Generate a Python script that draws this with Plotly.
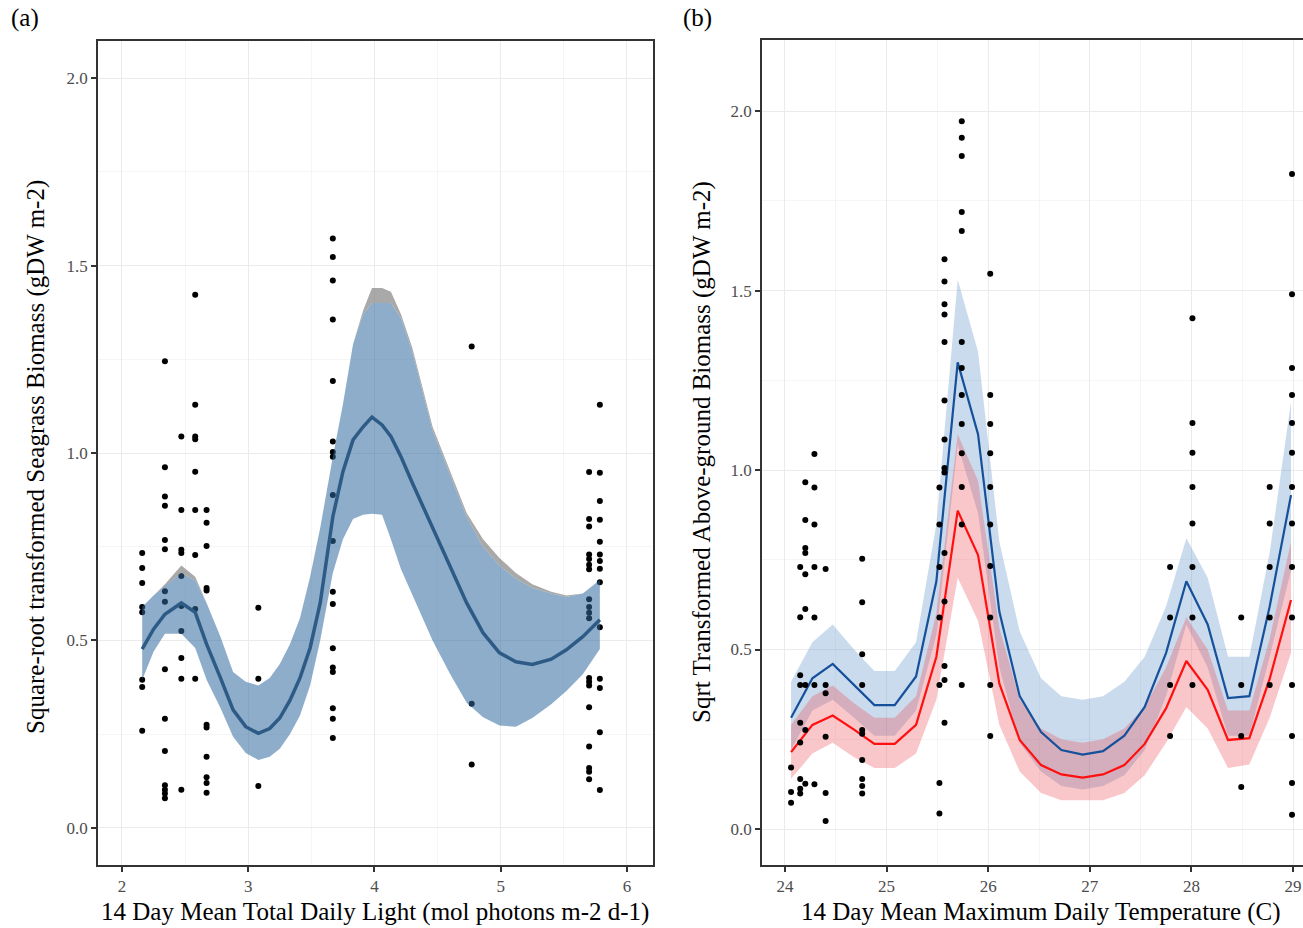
import plotly.graph_objects as go

# ---------------- Panel (a) data ----------------
light_x = ([2.16] * 8 + [2.34] * 15 + [2.47] * 10 + [2.58] * 9 + [2.67] * 11 + [3.08] * 3
           + [3.67] * 18 + [4.77] * 3 + [5.70] * 19 + [5.785] * 14)
light_y = [
    0.733, 0.693, 0.653, 0.589, 0.575, 0.395, 0.376, 0.259,
    1.245, 0.962, 0.884, 0.859, 0.768, 0.743, 0.631, 0.603, 0.423, 0.291, 0.205, 0.114, 0.102, 0.092, 0.079,
    1.044, 0.848, 0.742, 0.733, 0.672, 0.592, 0.525, 0.453, 0.398, 0.102,
    1.422, 1.129, 1.044, 1.037, 0.950, 0.848, 0.728, 0.584, 0.398,
    0.848, 0.814, 0.752, 0.640, 0.633, 0.275, 0.268, 0.190, 0.135, 0.120, 0.094,
    0.587, 0.398, 0.112,
    1.572, 1.523, 1.460, 1.356, 1.192, 1.031, 1.003, 0.990, 0.888, 0.765, 0.630, 0.597, 0.479, 0.428, 0.416, 0.319, 0.291, 0.240,
    1.284, 0.331, 0.169,
    0.949, 0.824, 0.804, 0.729, 0.717, 0.702, 0.690, 0.610, 0.589, 0.574, 0.559, 0.400, 0.390, 0.380, 0.322, 0.217, 0.160, 0.150, 0.130,
    1.129, 0.947, 0.872, 0.822, 0.763, 0.729, 0.712, 0.691, 0.655, 0.535, 0.398, 0.373, 0.255, 0.101,
]

smooth_x = [2.16, 2.25, 2.34, 2.47, 2.58, 2.67, 2.78, 2.88, 2.98, 3.08, 3.17, 3.25, 3.33, 3.41, 3.49, 3.57,
            3.67, 3.75, 3.83, 3.91, 3.98, 4.06, 4.13, 4.21, 4.30, 4.46, 4.60, 4.73, 4.86, 4.99, 5.12, 5.25,
            5.40, 5.52, 5.65, 5.785]
smooth_fit = [0.477, 0.53, 0.57, 0.60, 0.575, 0.49, 0.40, 0.315, 0.27, 0.252, 0.265, 0.293, 0.34, 0.40, 0.48, 0.60,
              0.83, 0.95, 1.035, 1.07, 1.096, 1.075, 1.044, 0.99, 0.92, 0.80, 0.70, 0.60, 0.52, 0.467, 0.443, 0.436,
              0.45, 0.475, 0.51, 0.555]
smooth_lower = [0.395, 0.47, 0.518, 0.518, 0.48, 0.395, 0.32, 0.243, 0.20, 0.181, 0.19, 0.211, 0.25, 0.30, 0.38, 0.50,
                0.68, 0.77, 0.824, 0.835, 0.838, 0.835, 0.77, 0.69, 0.62, 0.50, 0.41, 0.334, 0.295, 0.273, 0.27, 0.293,
                0.33, 0.365, 0.41, 0.477]
smooth_upper_grey = [0.589, 0.62, 0.65, 0.70, 0.67, 0.60, 0.51, 0.416, 0.39, 0.38, 0.40, 0.437, 0.49, 0.56, 0.67, 0.80,
                     0.99, 1.13, 1.29, 1.38, 1.44, 1.44, 1.43, 1.37, 1.28, 1.07, 0.95, 0.84, 0.77, 0.72, 0.68, 0.65,
                     0.63, 0.62, 0.625, 0.661]
smooth_upper_blue = [0.589, 0.62, 0.645, 0.68, 0.66, 0.60, 0.51, 0.416, 0.39, 0.38, 0.40, 0.437, 0.49, 0.56, 0.67, 0.80,
                     0.99, 1.13, 1.29, 1.37, 1.40, 1.40, 1.40, 1.36, 1.27, 1.06, 0.94, 0.83, 0.75, 0.70, 0.665, 0.64,
                     0.625, 0.616, 0.625, 0.661]

# ---------------- Panel (b) data ----------------
temp_x = ([24.06] * 3 + [24.15] * 9 + [24.20] * 9 + [24.29] * 7 + [24.40] * 6 + [24.76] * 10 + [25.52] * 7
          + [25.57] * 14 + [25.74] * 13 + [26.02] * 10 + [27.79] * 4 + [28.01] * 8 + [28.49] * 4 + [28.77] * 5
          + [28.99] * 14)
temp_y = [
    0.171, 0.103, 0.073,
    0.730, 0.590, 0.428, 0.401, 0.296, 0.241, 0.139, 0.112, 0.099,
    0.966, 0.861, 0.783, 0.769, 0.710, 0.613, 0.401, 0.276, 0.126,
    1.045, 0.951, 0.848, 0.730, 0.589, 0.401, 0.125,
    0.724, 0.401, 0.378, 0.257, 0.100, 0.022,
    0.753, 0.632, 0.487, 0.401, 0.276, 0.265, 0.192, 0.139, 0.120, 0.099,
    0.951, 0.848, 0.730, 0.589, 0.401, 0.128, 0.043,
    1.587, 1.525, 1.462, 1.433, 1.357, 1.194, 1.085, 1.006, 0.993, 0.769, 0.634, 0.454, 0.415, 0.296,
    1.972, 1.926, 1.875, 1.719, 1.666, 1.357, 1.284, 1.209, 1.128, 1.047, 0.953, 0.848, 0.401,
    1.547, 1.209, 1.128, 1.047, 0.953, 0.848, 0.733, 0.589, 0.401, 0.259,
    0.730, 0.589, 0.401, 0.259,
    1.423, 1.131, 1.048, 0.953, 0.851, 0.730, 0.589, 0.401,
    0.589, 0.401, 0.259, 0.117,
    0.953, 0.851, 0.730, 0.589, 0.401,
    1.825, 1.490, 1.284, 1.209, 1.131, 1.048, 0.953, 0.851, 0.730, 0.589, 0.401, 0.259, 0.128, 0.040,
]

pred_x = [24.06, 24.27, 24.47, 24.68, 24.88, 25.08, 25.29, 25.49, 25.70, 25.90, 26.11, 26.31, 26.52,
          26.72, 26.93, 27.13, 27.34, 27.54, 27.75, 27.95, 28.16, 28.36, 28.57, 28.77, 28.98]
blue_fit = [0.31, 0.42, 0.46, 0.40, 0.345, 0.345, 0.425, 0.69, 1.30, 1.10, 0.605, 0.37, 0.27,
            0.22, 0.207, 0.217, 0.26, 0.34, 0.49, 0.69, 0.57, 0.365, 0.37, 0.62, 0.93]
blue_upper = [0.41, 0.52, 0.57, 0.50, 0.44, 0.44, 0.52, 0.85, 1.53, 1.33, 0.80, 0.55, 0.42,
              0.37, 0.36, 0.37, 0.41, 0.48, 0.62, 0.81, 0.70, 0.48, 0.48, 0.77, 1.19]
blue_lower = [0.22, 0.33, 0.36, 0.31, 0.26, 0.26, 0.33, 0.54, 1.07, 0.88, 0.45, 0.24, 0.16,
              0.12, 0.11, 0.12, 0.15, 0.22, 0.37, 0.57, 0.45, 0.26, 0.26, 0.48, 0.72]
red_fit = [0.214, 0.29, 0.316, 0.277, 0.237, 0.237, 0.29, 0.48, 0.887, 0.763, 0.405, 0.248, 0.178,
           0.152, 0.143, 0.152, 0.178, 0.237, 0.336, 0.468, 0.388, 0.248, 0.253, 0.418, 0.638]
red_upper = [0.29, 0.37, 0.40, 0.35, 0.31, 0.31, 0.37, 0.60, 1.10, 0.97, 0.56, 0.36, 0.28,
             0.25, 0.24, 0.25, 0.28, 0.34, 0.45, 0.59, 0.50, 0.33, 0.33, 0.53, 0.80]
red_lower = [0.14, 0.21, 0.24, 0.20, 0.17, 0.17, 0.21, 0.36, 0.70, 0.58, 0.29, 0.16, 0.10,
             0.08, 0.08, 0.08, 0.10, 0.15, 0.24, 0.34, 0.28, 0.17, 0.18, 0.31, 0.49]

ticks_a_x = [2, 3, 4, 5, 6]
ticks_b_x = [24, 25, 26, 27, 28, 29]
ticks_y = [0.0, 0.5, 1.0, 1.5, 2.0]

FONT = "Liberation Serif"

fig = go.Figure()

# ---- panel (a) ----
fig.add_trace(go.Scatter(x=light_x, y=light_y, mode="markers", xaxis="x", yaxis="y",
                         marker=dict(color="black", size=6), hoverinfo="skip"))
fig.add_trace(go.Scatter(x=smooth_x + smooth_x[::-1], y=smooth_upper_blue + smooth_lower[::-1],
                         fill="toself", fillcolor="rgba(50,105,160,0.55)", line=dict(width=0),
                         mode="lines", xaxis="x", yaxis="y", hoverinfo="skip"))
fig.add_trace(go.Scatter(x=smooth_x + smooth_x[::-1], y=smooth_upper_grey + smooth_upper_blue[::-1],
                         fill="toself", fillcolor="rgba(140,140,140,0.75)", line=dict(width=0),
                         mode="lines", xaxis="x", yaxis="y", hoverinfo="skip"))
fig.add_trace(go.Scatter(x=smooth_x, y=smooth_fit, mode="lines", xaxis="x", yaxis="y",
                         line=dict(color="#2d5b85", width=3.5), hoverinfo="skip"))

# ---- panel (b) ----
fig.add_trace(go.Scatter(x=pred_x + pred_x[::-1], y=blue_upper + blue_lower[::-1],
                         fill="toself", fillcolor="rgba(80,135,195,0.3)", line=dict(width=0),
                         mode="lines", xaxis="x2", yaxis="y2", hoverinfo="skip"))
fig.add_trace(go.Scatter(x=pred_x + pred_x[::-1], y=red_upper + red_lower[::-1],
                         fill="toself", fillcolor="rgba(235,70,80,0.3)", line=dict(width=0),
                         mode="lines", xaxis="x2", yaxis="y2", hoverinfo="skip"))
fig.add_trace(go.Scatter(x=pred_x, y=blue_fit, mode="lines", xaxis="x2", yaxis="y2",
                         line=dict(color="#15509a", width=2.2), hoverinfo="skip"))
fig.add_trace(go.Scatter(x=pred_x, y=red_fit, mode="lines", xaxis="x2", yaxis="y2",
                         line=dict(color="#ff1010", width=2.2), hoverinfo="skip"))
fig.add_trace(go.Scatter(x=temp_x, y=temp_y, mode="markers", xaxis="x2", yaxis="y2",
                         marker=dict(color="black", size=6), hoverinfo="skip"))

tickfont = dict(family=FONT, size=17, color="#4d4d4d")
common = dict(showgrid=True, gridcolor="#ebebeb", gridwidth=1.2, zeroline=False,
              ticks="outside", ticklen=5, tickwidth=1.5, tickcolor="#333333",
              showline=True, linecolor="#333333", linewidth=1.8, tickfont=tickfont)

fig.update_layout(
    width=1303, height=928, margin=dict(l=0, r=0, t=0, b=0),
    paper_bgcolor="white", plot_bgcolor="white", showlegend=False,
    xaxis=dict(domain=[98 / 1303, 653 / 1303], range=[1.81, 6.206], anchor="y",
               tickvals=ticks_a_x, mirror=True,
               minor=dict(dtick=0.5, showgrid=True, gridcolor="#f5f5f5", gridwidth=1, ticks=""), **common),
    yaxis=dict(domain=[63 / 928, 887 / 928], range=[-0.099, 2.099], anchor="x",
               tickvals=ticks_y, tickformat=".1f", mirror=True,
               minor=dict(dtick=0.25, showgrid=True, gridcolor="#f5f5f5", gridwidth=1, ticks=""), **common),
    xaxis2=dict(domain=[762 / 1303, 1.0], range=[23.774, 29.098], anchor="y2",
                tickvals=ticks_b_x, mirror=True,
                minor=dict(dtick=0.5, showgrid=True, gridcolor="#f5f5f5", gridwidth=1, ticks=""), **common),
    yaxis2=dict(domain=[63 / 928, 888 / 928], range=[-0.1003, 2.198], anchor="x2",
                tickvals=ticks_y, tickformat=".1f", mirror=False,
                minor=dict(dtick=0.25, showgrid=True, gridcolor="#f5f5f5", gridwidth=1, ticks=""), **common),
)

titlefont = dict(family=FONT, size=25, color="black")
ann = [
    dict(text="14 Day Mean Total Daily Light (mol photons m-2 d-1)", x=375 / 1303, y=(928 - 912) / 928),
    dict(text="14 Day Mean Maximum Daily Temperature (C)", x=1041 / 1303, y=(928 - 912) / 928),
    dict(text="Square-root transformed Seagrass Biomass (gDW m-2)", x=36 / 1303, y=(928 - 457) / 928, textangle=-90),
    dict(text="Sqrt Transformed Above-ground Biomass (gDW m-2)", x=702 / 1303, y=(928 - 452) / 928, textangle=-90),
]
for a in ann:
    fig.add_annotation(xref="paper", yref="paper", showarrow=False, xanchor="center", yanchor="middle",
                       font=titlefont, **a)
for lab, xpos in [("(a)", 25), ("(b)", 697)]:
    fig.add_annotation(text=lab, xref="paper", yref="paper", x=xpos / 1303, y=(928 - 18) / 928,
                       showarrow=False, xanchor="center", yanchor="middle",
                       font=dict(family=FONT, size=25, color="black"))

fig.write_html("out.html")
